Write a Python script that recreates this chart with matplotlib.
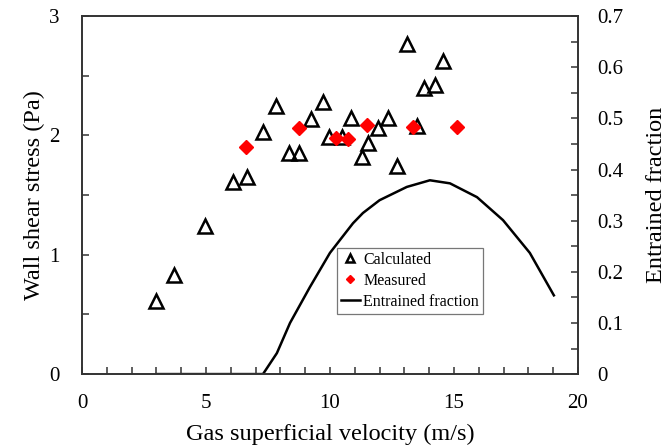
import numpy as np
from matplotlib import pyplot as plt
from matplotlib.ticker import MultipleLocator

plt.rcParams['font.family'] = ['Liberation Serif', 'DejaVu Serif']

# Calculated wall shear stress (triangles)
calc_v = [2.98, 3.71, 4.96, 6.09, 6.65, 7.30, 7.82, 8.35, 8.75, 9.23, 9.72, 9.96,
          10.48, 10.85, 11.29, 11.53, 11.94, 12.34, 12.70, 13.10, 13.51, 13.79, 14.23, 14.56]
calc_tau = [0.61, 0.83, 1.24, 1.61, 1.65, 2.03, 2.25, 1.85, 1.85, 2.14, 2.28, 1.99,
            1.99, 2.15, 1.82, 1.94, 2.06, 2.15, 1.74, 2.77, 2.08, 2.40, 2.42, 2.62]

# Measured wall shear stress (red diamonds)
meas_v = [6.61, 8.75, 10.24, 10.73, 11.49, 13.35, 15.12]
meas_tau = [1.90, 2.06, 1.98, 1.97, 2.09, 2.07, 2.07]

# Entrained fraction (right axis)
ent_v = [3.0, 7.3, 7.86, 8.39, 9.19, 10.0, 10.4, 10.93, 11.33, 12.0, 13.1, 14.03,
         14.84, 15.93, 16.98, 18.06, 19.03]
ent_f = [0.0, 0.0, 0.041, 0.10, 0.17, 0.237, 0.262, 0.295, 0.315, 0.340, 0.366, 0.379,
         0.373, 0.346, 0.301, 0.237, 0.154]

right_ticks = ['0', '0.1', '0.2', '0.3', '0.4', '0.5', '0.6', '0.7']

fig = plt.figure(figsize=(6.72, 4.48), dpi=100)
ax1 = fig.add_axes([0.122, 0.165, 0.738, 0.799])
ax2 = ax1.twinx()

l1, = ax1.plot(calc_v, calc_tau, linestyle='none', marker='^', markersize=10,
               markerfacecolor='none', markeredgecolor='black', markeredgewidth=1.8,
               label='Calculated', zorder=3)
l2, = ax1.plot(meas_v, meas_tau, linestyle='none', marker='D', markersize=7.5,
               color='red', label='Measured', zorder=4)
l3, = ax2.plot(ent_v, ent_f, '-k', linewidth=1.8, label='Entrained fraction')

ax1.set_xlim(0, 20)
ax1.set_ylim(0, 3)
ax2.set_ylim(0, 0.7)
ax1.set_zorder(ax2.get_zorder() + 1)
ax1.patch.set_visible(False)

ax1.xaxis.set_major_locator(MultipleLocator(5))
ax1.xaxis.set_minor_locator(MultipleLocator(1))
ax1.yaxis.set_major_locator(MultipleLocator(1))
ax1.yaxis.set_minor_locator(MultipleLocator(0.5))
ax2.set_yticks(np.arange(0, 0.71, 0.1))
ax2.set_yticklabels(right_ticks)
ax2.yaxis.set_minor_locator(MultipleLocator(0.05))

for ax in (ax1, ax2):
    ax.tick_params(which='both', direction='in', labelsize=15, color='#333333',
                   length=5, width=1.1)
    for s in ax.spines.values():
        s.set_linewidth(1.2)
        s.set_color('#333333')
ax1.tick_params(axis='x', pad=14)
ax1.tick_params(axis='y', pad=16)
ax2.tick_params(axis='y', pad=14)

ax1.set_xlabel('Gas superficial velocity (m/s)', fontsize=17.5, labelpad=8)
ax1.set_ylabel('Wall shear stress (Pa)', fontsize=17.5, labelpad=3)
ax2.set_ylabel('Entrained fraction', fontsize=17.5, labelpad=16)

leg = ax1.legend(handles=[l1, l2, l3], loc='upper left', bbox_to_anchor=(0.514, 0.352),
                 fontsize=11.5, frameon=True, fancybox=False, edgecolor='#555555',
                 handlelength=1.2, handletextpad=0.2, borderpad=0.25, labelspacing=0.3,
                 markerscale=0.6, borderaxespad=0)
leg.get_frame().set_linewidth(0.9)

fig.savefig('out.png', dpi=100)
